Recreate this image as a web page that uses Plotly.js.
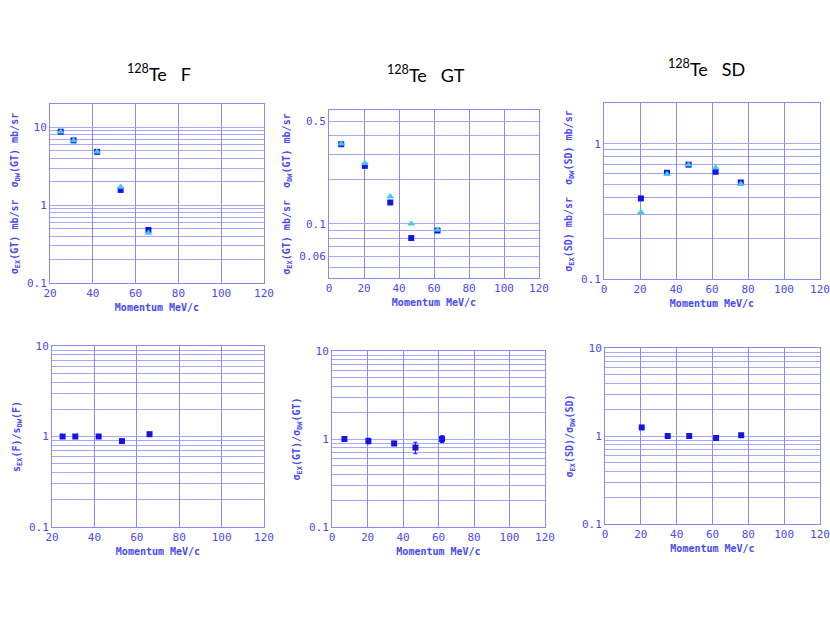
<!DOCTYPE html>
<html>
<head>
<meta charset="utf-8">
<script src="https://cdn.plot.ly/plotly-3.0.1.min.js"></script>
<style>html,body{margin:0;padding:0;background:#fff;}#chart{width:830px;height:623px;}</style>
</head>
<body>
<div id="chart"></div>
<script>
// ---- Data ----
const fMomentum = [25, 31, 42, 53, 66];
const fEX = [8.8, 6.8, 4.85, 1.57, 0.48];
const fDW = [8.8, 6.8, 4.85, 1.71, 0.44];
const fRatio = [1.0, 1.0, 1.0, 0.89, 1.06];
const fRatioErr = [0.02, 0.02, 0.02, 0.04, 0.05];

const gtMomentum = [7, 20.5, 35, 47, 62];
const gtEX = [0.35, 0.249, 0.140, 0.080, 0.090];
const gtDW = [0.352, 0.259, 0.154, 0.100, 0.091];
const gtRatio = [1.0, 0.95, 0.89, 0.80, 1.0];
const gtRatioErr = [0.05, 0.07, 0.05, 0.12, 0.09];

const sdMomentum = [20.5, 35, 47, 62, 76];
const sdEX = [0.394, 0.61, 0.70, 0.62, 0.517];
const sdDW = [0.312, 0.595, 0.70, 0.664, 0.503];
const sdRatio = [1.25, 1.0, 1.0, 0.95, 1.02];
const sdRatioErr = [0.02, 0.02, 0.02, 0.05, 0.04];

const xTicksFrom20 = [20, 40, 60, 80, 100, 120];
const xTicksFrom0 = [0, 20, 40, 60, 80, 100, 120];

const tickF = [0.1, 1, 10];
const tickFLabels = ['0.1', '1', '10'];
const minorF = [0.2,0.3,0.4,0.5,0.6,0.7,0.8,0.9,2,3,4,5,6,7,8,9];
const tickGT = [0.06, 0.1, 0.5];
const tickGTLabels = ['0.06', '0.1', '0.5'];
const minorGT = [0.05,0.07,0.08,0.09,0.2,0.3,0.4];
const tickSD = [0.1, 1];
const tickSDLabels = ['0.1', '1'];
const minorSD = [0.2,0.3,0.4,0.5,0.6,0.7,0.8,0.9];

const titles = ['<sup>128</sup>Te   F', '<sup>128</sup>Te   GT', '<sup>128</sup>Te   SD'];

// ---- Styles ----
const EXC = '#1414e6';
const DWC = '#44c8f0';
const AXC = '#4a4af2';
const GRIDC = '#a8a8fa';
const LINEC = '#8a8af5';
const monoTick = {family: 'DejaVu Sans Mono', size: 11, color: AXC};
const monoTitle = {family: 'DejaVu Sans Mono', size: 10, color: AXC, weight: 'bold'};

function W(px){return px/830;}
function H(px){return 1 - px/623;}

function xax(l, r, anchor, ticks, range){
  return {domain:[W(l), W(r)], anchor: anchor, range: range,
    tickmode:'array', tickvals: ticks,
    ticks:'', showgrid:true, gridcolor:LINEC, gridwidth:1, showline:true, mirror:true,
    linecolor:LINEC, linewidth:1, zeroline:false, tickfont: monoTick,
    title:{text:'Momentum MeV/c', font: monoTitle, standoff: 4}};
}
function yax(t, b, anchor, range, vals, labels, minorVals, title){
  return {domain:[H(b), H(t)], anchor: anchor, type:'log', range: range,
    tickmode:'array', tickvals: vals, ticktext: labels, ticks:'',
    minor:{tickmode:'array', tickvals: minorVals, showgrid:true, gridcolor:GRIDC, gridwidth:1, ticks:''},
    showgrid:true, gridcolor:GRIDC, gridwidth:1, showline:true, mirror:true,
    linecolor:LINEC, linewidth:1, zeroline:false, tickfont: monoTick,
    title:{text: title, font: monoTitle, standoff: 6}};
}

function sq(x, y, xa, ya, err){
  const t = {x:x, y:y, xaxis:xa, yaxis:ya, type:'scatter', mode:'markers',
    marker:{symbol:'square', size:6, color:EXC}, showlegend:false, hoverinfo:'skip'};
  if (err) t.error_y = {type:'data', array: err, visible:true, color:EXC, thickness:1, width:2};
  return t;
}
function tri(x, y, xa, ya){
  return {x:x, y:y, xaxis:xa, yaxis:ya, type:'scatter', mode:'markers',
    marker:{symbol:'triangle-up', size:7, color:DWC}, showlegend:false, hoverinfo:'skip'};
}

const data = [
  sq(fMomentum, fEX, 'x', 'y'), tri(fMomentum, fDW, 'x', 'y'),
  sq(gtMomentum, gtEX, 'x2', 'y2'), tri(gtMomentum, gtDW, 'x2', 'y2'),
  sq(sdMomentum, sdEX, 'x3', 'y3'), tri(sdMomentum, sdDW, 'x3', 'y3'),
  sq(fMomentum, fRatio, 'x4', 'y4', fRatioErr),
  sq(gtMomentum, gtRatio, 'x5', 'y5', gtRatioErr),
  sq(sdMomentum, sdRatio, 'x6', 'y6', sdRatioErr)
];

const titleFont = {family:'Lato', size:18, color:'#000'};
const layout = {
  width: 830, height: 623, margin:{l:0, r:0, t:0, b:0},
  paper_bgcolor:'#ffffff', plot_bgcolor:'#ffffff', showlegend:false,
  xaxis:  xax(50, 264, 'y', xTicksFrom20, [20,120]),
  yaxis:  yax(104, 283, 'x', [-1, 1.3], tickF, tickFLabels, minorF, 'σ<sub>EX</sub>(GT) mb/sr  σ<sub>DW</sub>(GT) mb/sr'),
  xaxis2: xax(329, 539, 'y2', xTicksFrom0, [0,120]),
  yaxis2: yax(110, 278, 'x2', [-1.37, -0.222], tickGT, tickGTLabels, minorGT, 'σ<sub>EX</sub>(GT) mb/sr  σ<sub>DW</sub>(GT) mb/sr'),
  xaxis3: xax(604, 820, 'y3', xTicksFrom0, [0,120]),
  yaxis3: yax(103, 279, 'x3', [-1, 0.301], tickSD, tickSDLabels, minorSD, 'σ<sub>EX</sub>(SD) mb/sr  σ<sub>DW</sub>(SD) mb/sr'),
  xaxis4: xax(52, 264, 'y4', xTicksFrom20, [20,120]),
  yaxis4: yax(346, 527, 'x4', [-1, 1], tickF, tickFLabels, minorF, 's<sub>EX</sub>(F)/s<sub>DW</sub>(F)'),
  xaxis5: xax(332, 545, 'y5', xTicksFrom0, [0,120]),
  yaxis5: yax(351, 527, 'x5', [-1, 1], tickF, tickFLabels, minorF, 'σ<sub>EX</sub>(GT)/σ<sub>DW</sub>(GT)'),
  xaxis6: xax(605, 820, 'y6', xTicksFrom0, [0,120]),
  yaxis6: yax(348, 524, 'x6', [-1, 1], tickF, tickFLabels, minorF, 'σ<sub>EX</sub>(SD)/σ<sub>DW</sub>(SD)'),
  annotations: [
    {text: titles[0], x: W(159), y: H(73), xref:'paper', yref:'paper', xanchor:'center', yanchor:'middle', showarrow:false, font: titleFont},
    {text: titles[1], x: W(426), y: H(74), xref:'paper', yref:'paper', xanchor:'center', yanchor:'middle', showarrow:false, font: titleFont},
    {text: titles[2], x: W(706), y: H(68), xref:'paper', yref:'paper', xanchor:'center', yanchor:'middle', showarrow:false, font: titleFont}
  ]
};

Plotly.newPlot('chart', data, layout, {staticPlot:true, displayModeBar:false});
</script>
</body>
</html>
